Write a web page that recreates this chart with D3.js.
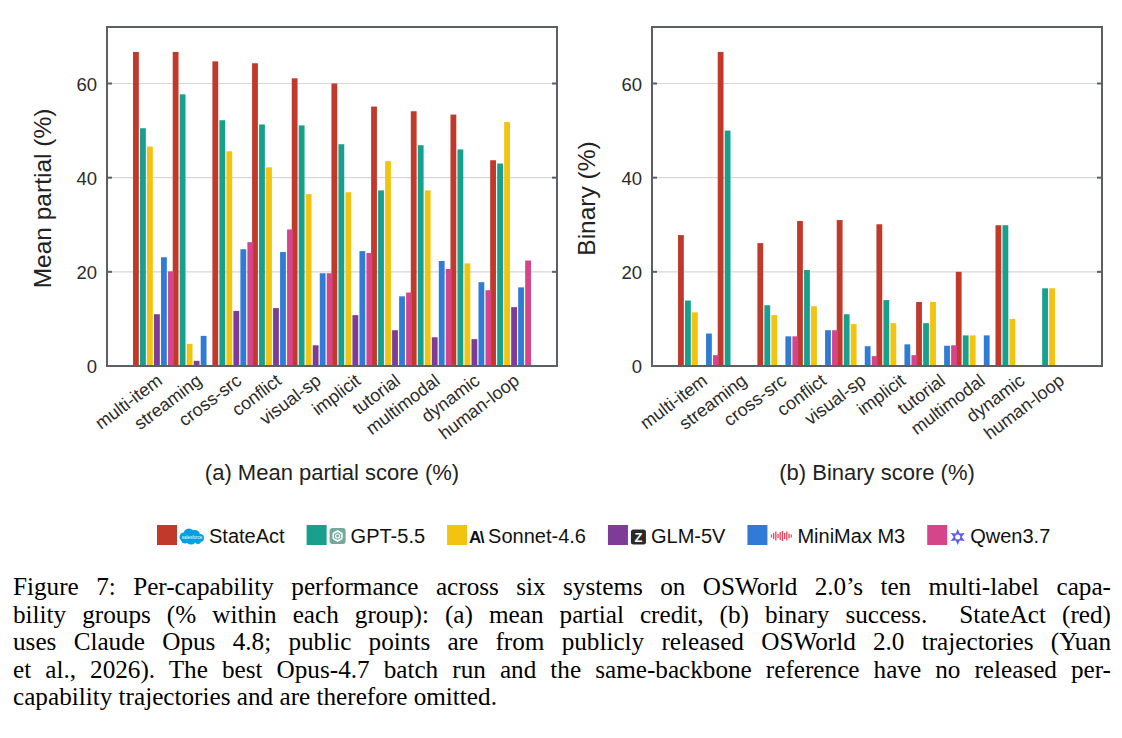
<!DOCTYPE html>
<html>
<head>
<meta charset="utf-8">
<script src="https://cdn.jsdelivr.net/npm/d3@7"></script>
<style>
  body { margin: 0; background: #fff; }
  svg { display: block; }
</style>
</head>
<body>
<svg id="fig" width="1122" height="738"></svg>
<script>
// capability groups (x categories)
const categories = ["multi-item", "streaming", "cross-src", "conflict", "visual-sp",
                    "implicit", "tutorial", "multimodal", "dynamic", "human-loop"];

const models = ["StateAct", "GPT-5.5", "Sonnet-4.6", "GLM-5V", "MiniMax M3", "Qwen3.7"];
const colors = ["#c0392b", "#17a08c", "#f2c30f", "#7d3c98", "#2f7bd6", "#d6448a"];

// (a) mean partial score (%)
const stateActPartial = [66.7, 66.7, 64.7, 64.3, 61.1, 60.0, 55.1, 54.1, 53.4, 43.7];
const gptPartial      = [50.5, 57.7, 52.2, 51.3, 51.1, 47.1, 37.3, 46.9, 46.0, 43.0];
const sonnetPartial   = [46.6, 4.7, 45.6, 42.2, 36.5, 36.9, 43.5, 37.3, 21.8, 51.8];
const glmPartial      = [11.0, 1.1, 11.7, 12.3, 4.4, 10.8, 7.6, 6.1, 5.7, 12.5];
const minimaxPartial  = [23.1, 6.4, 24.8, 24.2, 19.7, 24.4, 14.8, 22.3, 17.8, 16.7];
const qwenPartial     = [20.1, 0, 26.3, 29.0, 19.7, 24.0, 15.6, 20.6, 16.1, 22.4];

// (b) binary score (%)
const stateActBinary = [27.8, 66.7, 26.1, 30.8, 31.0, 30.1, 13.6, 20.0, 29.9, 0];
const gptBinary      = [13.9, 50.0, 12.9, 20.4, 11.0, 14.0, 9.1, 6.5, 29.9, 16.5];
const sonnetBinary   = [11.4, 0, 10.8, 12.7, 8.9, 9.1, 13.6, 6.5, 10.0, 16.5];
const glmBinary      = [0, 0, 0, 0, 0, 0, 0, 0, 0, 0];
const minimaxBinary  = [6.9, 0, 6.3, 7.6, 4.2, 4.6, 4.3, 6.5, 0, 0];
const qwenBinary     = [2.3, 0, 6.3, 7.6, 2.1, 2.3, 4.4, 0, 0, 0];

const yTicks = [0, 20, 40, 60];

const captionLines = [
  "Figure 7: Per-capability performance across six systems on OSWorld 2.0\u2019s ten multi-label capa-",
  "bility groups (% within each group): (a) mean partial credit, (b) binary success.  StateAct (red)",
  "uses Claude Opus 4.8; public points are from publicly released OSWorld 2.0 trajectories (Yuan",
  "et al., 2026). The best Opus-4.7 batch run and the same-backbone reference have no released per-",
  "capability trajectories and are therefore omitted."
];

const svg = d3.select("#fig");
const sans = "'Liberation Sans', Arial, Helvetica, sans-serif";
const frameColor = "#5c5f64";

const plotTop = 27, plotBottom = 366;
const y = d3.scaleLinear().domain([0, 72]).range([plotBottom, plotTop]);

function drawPanel(x0, x1, series, yTitle, yTitleX, subTitle) {
    const g = svg.append("g");
    const x = d3.scalePoint().domain(categories).range([x0, x1]).padding(1.17);
    const barStep = 7, barW = 5.8;
    const inner = d3.scaleLinear().domain([0, models.length - 1])
        .range([-(models.length - 1) / 2 * barStep, (models.length - 1) / 2 * barStep]);

    // grid
    g.selectAll(".grid")
        .data(yTicks.filter(t => t > 0))
        .enter().append("line")
        .attr("x1", x0).attr("x2", x1)
        .attr("y1", d => y(d)).attr("y2", d => y(d))
        .attr("stroke", "#d6d6db")
        .attr("stroke-width", 1.2);

    // bars
    series.forEach((vals, m) => {
        g.append("g").selectAll("rect")
            .data(vals.map((v, i) => ({ cat: categories[i], v })))
            .enter().append("rect")
            .attr("x", d => x(d.cat) + inner(m) - barW / 2)
            .attr("y", d => y(d.v))
            .attr("width", barW)
            .attr("height", d => plotBottom - y(d.v))
            .attr("fill", colors[m]);
    });

    // frame + inner ticks
    g.append("rect")
        .attr("x", x0).attr("y", plotTop)
        .attr("width", x1 - x0).attr("height", plotBottom - plotTop)
        .attr("fill", "none")
        .attr("stroke", frameColor)
        .attr("stroke-width", 2);

    const ticks = yTicks.filter(t => t > 0);
    g.selectAll(".tl").data(ticks).enter().append("line")
        .attr("x1", x0).attr("x2", x0 + 5)
        .attr("y1", d => y(d)).attr("y2", d => y(d))
        .attr("stroke", frameColor).attr("stroke-width", 2);
    g.selectAll(".tr").data(ticks).enter().append("line")
        .attr("x1", x1 - 5).attr("x2", x1)
        .attr("y1", d => y(d)).attr("y2", d => y(d))
        .attr("stroke", frameColor).attr("stroke-width", 2);

    // y tick labels
    g.selectAll(".yl").data(yTicks).enter().append("text")
        .attr("x", x0 - 10)
        .attr("y", d => y(d) + 7)
        .attr("text-anchor", "end")
        .attr("font-family", sans)
        .attr("font-size", 18.5)
        .attr("fill", "#2b2b2b")
        .text(d => d);

    // x tick labels
    g.selectAll(".xl").data(categories).enter().append("text")
        .attr("transform", d => `translate(${x(d) + 10},${plotBottom + 17}) rotate(-37)`)
        .attr("text-anchor", "end")
        .attr("font-family", sans)
        .attr("font-size", 18)
        .attr("fill", "#2b2b2b")
        .text(d => d);

    // y title
    g.append("text")
        .attr("transform", `translate(${yTitleX},${(plotTop + plotBottom) / 2 + 2}) rotate(-90)`)
        .attr("text-anchor", "middle")
        .attr("font-family", sans)
        .attr("font-size", 24.5)
        .attr("fill", "#222")
        .text(yTitle);

    // panel caption
    g.append("text")
        .attr("x", (x0 + x1) / 2)
        .attr("y", 480)
        .attr("text-anchor", "middle")
        .attr("font-family", sans)
        .attr("font-size", 22)
        .attr("fill", "#222")
        .text(subTitle);
}

drawPanel(107, 557,
    [stateActPartial, gptPartial, sonnetPartial, glmPartial, minimaxPartial, qwenPartial],
    "Mean partial (%)", 51, "(a) Mean partial score (%)");
drawPanel(652, 1102,
    [stateActBinary, gptBinary, sonnetBinary, glmBinary, minimaxBinary, qwenBinary],
    "Binary (%)", 595, "(b) Binary score (%)");

// ---- legend ----
const iconWidths = [24, 16, 13, 15, 22, 15];

function drawIcon(g, k, ix, cy) {
    if (k === 0) {
        // salesforce cloud
        const c = g.append("g").attr("fill", "#00a1e0");
        [[4, 2, 4.5], [9, -1, 5.5], [15, 0, 5], [20, 3, 4], [11, 4, 5.5], [5, 5, 3.5], [18, 6, 3]]
            .forEach(p => c.append("circle").attr("cx", ix + p[0]).attr("cy", cy + p[1] - 1).attr("r", p[2]));
        g.append("text").attr("x", ix + 12).attr("y", cy + 2.5).attr("text-anchor", "middle")
            .attr("font-family", sans).attr("font-size", 4.5).attr("fill", "#fff").text("salesforce");
    } else if (k === 1) {
        g.append("rect").attr("x", ix).attr("y", cy - 8).attr("width", 16).attr("height", 16)
            .attr("rx", 3).attr("fill", "#74a89b");
        const hex = d3.range(6).map(i => {
            const a = Math.PI / 3 * i + Math.PI / 6;
            return [ix + 8 + 5 * Math.cos(a), cy + 5 * Math.sin(a)];
        });
        g.append("path").attr("d", d3.line()(hex) + "Z")
            .attr("fill", "none").attr("stroke", "#fff").attr("stroke-width", 1.6);
        g.append("circle").attr("cx", ix + 8).attr("cy", cy).attr("r", 2)
            .attr("fill", "none").attr("stroke", "#fff").attr("stroke-width", 1.2);
    } else if (k === 2) {
        g.append("text").attr("x", ix - 1).attr("y", cy + 7)
            .attr("font-family", sans).attr("font-weight", "bold").attr("font-size", 17)
            .attr("letter-spacing", -1.5).attr("fill", "#111").text("A\\");
    } else if (k === 3) {
        g.append("rect").attr("x", ix).attr("y", cy - 6.5).attr("width", 15).attr("height", 15)
            .attr("rx", 2.5).attr("fill", "#2a2a2a");
        g.append("text").attr("x", ix + 7.5).attr("y", cy + 5.5).attr("text-anchor", "middle")
            .attr("font-family", sans).attr("font-weight", "bold").attr("font-size", 13)
            .attr("fill", "#fff").text("Z");
    } else if (k === 4) {
        const h = [3, 6, 9, 4, 8, 10, 6, 9, 5, 3];
        let d = "";
        h.forEach((v, i) => {
            const px = ix + 1 + i * 2.2;
            d += `M${px},${cy + v / 2}L${px},${cy - v / 2}`;
        });
        g.append("path").attr("d", d).attr("stroke", "#e6465c")
            .attr("stroke-width", 1.3).attr("fill", "none");
    } else {
        const pts = d3.range(12).map(i => {
            const a = Math.PI / 6 * i - Math.PI / 2;
            const r = i % 2 === 0 ? 8 : 4;
            return [ix + 7.5 + r * Math.cos(a), cy + 1 + r * Math.sin(a)];
        });
        g.append("path").attr("d", d3.line()(pts) + "Z").attr("fill", "#615ced");
        g.append("circle").attr("cx", ix + 7.5).attr("cy", cy + 1).attr("r", 2.5).attr("fill", "#fff");
    }
}

const legend = svg.append("g");
let lx = 157;
const ly = 525;
models.forEach((name, k) => {
    const item = legend.append("g");
    item.append("rect").attr("x", lx).attr("y", ly).attr("width", 20).attr("height", 20)
        .attr("fill", colors[k]);
    const ix = lx + 23;
    drawIcon(item, k, ix, ly + 11);
    const tx = ix + iconWidths[k] + 5;
    const t = item.append("text").attr("x", tx).attr("y", ly + 18)
        .attr("font-family", sans).attr("font-size", 20).attr("fill", "#111").text(name);
    lx = tx + t.node().getComputedTextLength() + 22;
});

// ---- figure caption (justified by word spacing) ----
const cap = svg.append("g");
const lineWidth = 1098;
captionLines.forEach((line, i) => {
    const t = cap.append("text")
        .attr("x", 13)
        .attr("y", 595 + i * 27.5)
        .attr("font-family", "'Liberation Serif', 'Times New Roman', serif")
        .attr("font-size", 25.2)
        .attr("fill", "#000")
        .style("white-space", "pre")
        .text(line);
    if (i < captionLines.length - 1) {
        const w = t.node().getComputedTextLength();
        const spaces = (line.match(/ /g) || []).length;
        t.attr("word-spacing", (lineWidth - w) / spaces);
    }
});
</script>
</body>
</html>
